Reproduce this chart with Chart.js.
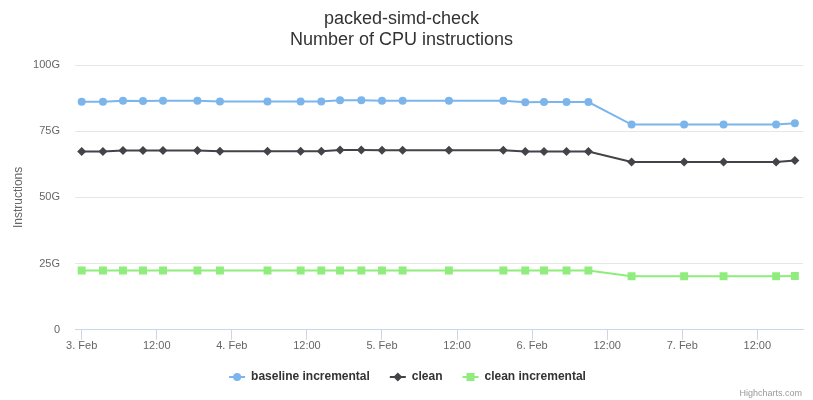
<!DOCTYPE html>
<html>
<head>
<meta charset="utf-8">
<script src="https://cdn.jsdelivr.net/npm/chart.js@4/dist/chart.umd.min.js"></script>
<style>
  body { margin: 0; background: #fff; }
  #wrap { position: relative; width: 813px; height: 400px; }
  #credits {
    position: absolute; right: 11px; top: 388px;
    font: 9px "Liberation Sans", Arial, sans-serif; color: #999;
  }
</style>
</head>
<body>
<div id="wrap">
  <canvas id="myChart" width="813" height="400"></canvas>
  <div id="credits">Highcharts.com</div>
</div>
<script>
// hours since 3 Feb 00:00
var hours = [0, 3.4, 6.6, 9.8, 13.0, 18.5, 22.1, 29.7, 35.0, 38.3, 41.3, 44.7, 48.0,
  51.3, 58.7, 67.4, 70.9, 73.9, 77.5, 81.0, 87.9, 96.3, 102.6, 111.0, 114.0];

var baselineIncremental = [86.1, 86.1, 86.5, 86.4, 86.5, 86.5, 86.2, 86.2, 86.2, 86.2, 86.7, 86.7, 86.5,
  86.5, 86.5, 86.5, 85.9, 86.0, 86.0, 86.0, 77.5, 77.5, 77.5, 77.5, 78.0];
var clean = [67.3, 67.3, 67.7, 67.7, 67.7, 67.7, 67.4, 67.4, 67.4, 67.4, 67.9, 67.9, 67.8,
  67.8, 67.8, 67.8, 67.3, 67.3, 67.3, 67.3, 63.4, 63.4, 63.4, 63.4, 63.9];
var cleanIncremental = [22.4, 22.4, 22.4, 22.4, 22.4, 22.4, 22.4, 22.4, 22.4, 22.4, 22.4, 22.4, 22.4,
  22.4, 22.4, 22.4, 22.4, 22.4, 22.4, 22.4, 20.2, 20.2, 20.2, 20.2, 20.3];

var seriesNames = ["baseline incremental", "clean", "clean incremental"];
var dayLabels = ["3. Feb", "4. Feb", "5. Feb", "6. Feb", "7. Feb"];
var yTicks = [0, 25, 50, 75, 100];

var FONT = '"Liberation Sans", Arial, Helvetica, sans-serif';

function pts(values) {
  return values.map(function (v, i) { return { x: hours[i], y: v }; });
}

function drawMarker(ctx, style, x, y, color) {
  ctx.save();
  ctx.fillStyle = color;
  ctx.beginPath();
  if (style == "circle") {
    ctx.arc(x, y, 4, 0, Math.PI * 2);
  } else if (style == "rectRot") {
    ctx.moveTo(x, y - 4.5);
    ctx.lineTo(x + 4.5, y);
    ctx.lineTo(x, y + 4.5);
    ctx.lineTo(x - 4.5, y);
    ctx.closePath();
  } else {
    ctx.rect(x - 4, y - 4, 8, 8);
  }
  ctx.fill();
  ctx.restore();
}

// highcharts style legend symbol: line with marker in the middle
var legendSymbols = {
  id: "legendSymbols",
  afterUpdate: function (chart) {
    // nudge the legend row a bit to the right
    var lg = chart.legend;
    lg.left += 6;
    lg.right += 6;
    lg.legendHitBoxes.forEach(function (hb) { hb.left += 6; });
  },
  afterDraw: function (chart) {
    var ctx = chart.ctx;
    var boxes = chart.legend.legendHitBoxes;
    chart.data.datasets.forEach(function (ds, i) {
      var hb = boxes[i];
      if (!hb) return;
      var cy = hb.top + hb.height / 2;
      ctx.save();
      ctx.strokeStyle = ds.borderColor;
      ctx.lineWidth = 2;
      ctx.beginPath();
      ctx.moveTo(hb.left, cy);
      ctx.lineTo(hb.left + 16, cy);
      ctx.stroke();
      ctx.restore();
      drawMarker(ctx, ds.pointStyle, hb.left + 8, cy, ds.borderColor);
    });
  }
};

var colors = ["#7cb5ec", "#434348", "#90ed7d"];
var styles = ["circle", "rectRot", "rect"];
var radii = [4, 4.5, 5.6];
var allValues = [baselineIncremental, clean, cleanIncremental];

var datasets = allValues.map(function (vals, i) {
  return {
    label: seriesNames[i],
    data: pts(vals),
    borderColor: colors[i],
    backgroundColor: colors[i],
    pointBackgroundColor: colors[i],
    pointBorderColor: colors[i],
    pointBorderWidth: 0,
    borderWidth: 2,
    pointStyle: styles[i],
    pointRadius: radii[i],
    pointHoverRadius: radii[i],
    tension: 0
  };
});

var ctx = document.getElementById("myChart").getContext("2d");
var myChart = new Chart(ctx, {
  type: "line",
  data: { datasets: datasets },
  plugins: [legendSymbols],
  options: {
    responsive: false,
    animation: false,
    events: [],
    layout: { padding: { left: 0, right: 10, top: 0, bottom: 7 } },
    plugins: {
      title: {
        display: true,
        text: ["packed-simd-check", "Number of CPU instructions"],
        color: "#333333",
        font: { family: FONT, size: 18, weight: "normal", lineHeight: 1.2 },
        padding: { top: 8, bottom: 13.8 }
      },
      legend: {
        position: "bottom",
        labels: {
          usePointStyle: true,
          pointStyleWidth: 16,
          padding: 20,
          color: "#333333",
          font: { family: FONT, size: 12, weight: "bold" },
          generateLabels: function (chart) {
            return chart.data.datasets.map(function (ds, i) {
              return {
                text: ds.label,
                fillStyle: "rgba(0,0,0,0)",
                strokeStyle: "rgba(0,0,0,0)",
                lineWidth: 0,
                pointStyle: "line",
                fontColor: "#333333",
                datasetIndex: i
              };
            });
          }
        }
      },
      tooltip: { enabled: false }
    },
    scales: {
      x: {
        type: "linear",
        min: -1.07,
        max: 115.3,
        afterBuildTicks: function (scale) {
          var t = [];
          for (var h = 0; h <= 108; h += 12) t.push({ value: h });
          scale.ticks = t;
        },
        afterFit: function (scale) { scale.height = scale.height - 2; },
        ticks: {
          color: "#666666",
          font: { family: FONT, size: 11 },
          padding: 0,
          maxRotation: 0,
          autoSkip: false,
          callback: function (v) {
            if (v % 24 == 0) return dayLabels[v / 24];
            return "12:00";
          }
        },
        grid: {
          drawOnChartArea: false,
          color: "#ccd6eb",
          tickColor: "#ccd6eb",
          tickLength: 10
        },
        border: { color: "#ccd6eb", width: 1 }
      },
      y: {
        min: 0,
        max: 100,
        afterFit: function (scale) { scale.width = 75; },
        afterBuildTicks: function (scale) {
          scale.ticks = yTicks.map(function (v) { return { value: v }; });
        },
        ticks: {
          color: "#666666",
          font: { family: FONT, size: 11 },
          padding: 15,
          callback: function (v) { return v == 0 ? "0" : v + "G"; }
        },
        grid: { color: "#e6e6e6", drawTicks: false },
        border: { display: false },
        title: {
          display: true,
          text: "Instructions",
          color: "#666666",
          font: { family: FONT, size: 12 },
          padding: { top: 11, bottom: 0 }
        }
      }
    }
  }
});
</script>
</body>
</html>
